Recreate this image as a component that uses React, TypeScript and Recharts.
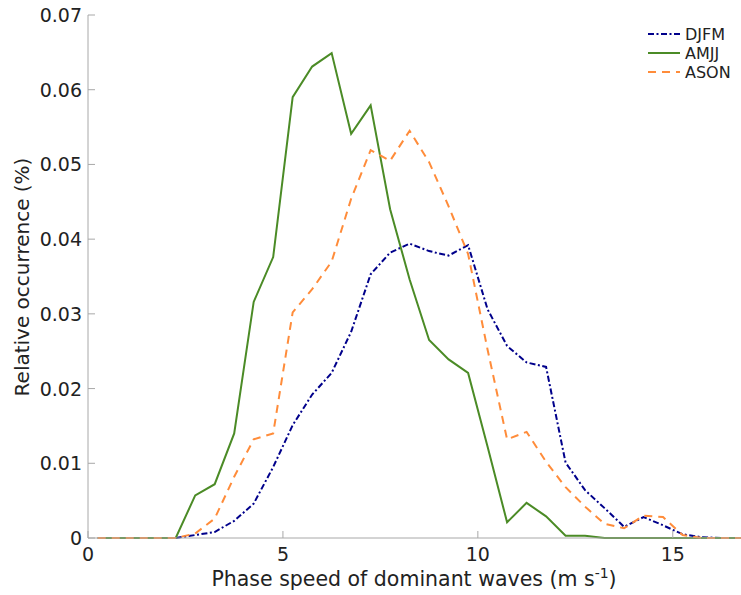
import React from "react";
import { LineChart, Line, XAxis, YAxis } from "recharts";

// phase speed bin centres (m s-1)
const phaseSpeed = [
  0.25, 0.75, 1.25, 1.75, 2.25, 2.75, 3.25, 3.75, 4.25, 4.75, 5.25, 5.75,
  6.25, 6.75, 7.25, 7.75, 8.25, 8.75, 9.25, 9.75, 10.25, 10.75, 11.25, 11.75,
  12.25, 12.75, 13.25, 13.75, 14.25, 14.75, 15.25, 15.75, 16.25, 16.75,
];

const djfm = [
  0, 0, 0, 0, 0, 0.0004, 0.0008, 0.0023, 0.0046, 0.0095, 0.0151, 0.0192,
  0.0221, 0.0276, 0.0353, 0.0382, 0.0394, 0.0384, 0.0378, 0.0392, 0.0306,
  0.0257, 0.0235, 0.0229, 0.0101, 0.0064, 0.004, 0.0015, 0.0028, 0.0017,
  0.0005, 0.0001, 0, 0,
];

const amjj = [
  0, 0, 0, 0, 0, 0.0057, 0.0072, 0.014, 0.0316, 0.0376, 0.059, 0.0631,
  0.0649, 0.0541, 0.0579, 0.044, 0.0346, 0.0265, 0.0239, 0.0221, 0.0122,
  0.0021, 0.0047, 0.0029, 0.0003, 0.0003, 0, 0, 0, 0, 0, 0, 0, 0,
];

const ason = [
  0, 0, 0, 0, 0, 0.0006, 0.0026, 0.0082, 0.0132, 0.014, 0.0302, 0.0333,
  0.037, 0.0454, 0.0519, 0.0505, 0.0545, 0.0503, 0.0444, 0.038, 0.0252,
  0.0132, 0.0142, 0.0102, 0.0068, 0.0042, 0.0019, 0.0013, 0.003, 0.0028,
  0.0004, 0, 0, 0,
];

const xTicks = [0, 5, 10, 15];
const yTicks = [0, 0.01, 0.02, 0.03, 0.04, 0.05, 0.06, 0.07];

const series = [
  { key: "DJFM", color: "#00008b", dash: "6 2.5 2 2.5" },
  { key: "AMJJ", color: "#4b8b26", dash: undefined },
  { key: "ASON", color: "#ff8c3a", dash: "8 6" },
];

const data = phaseSpeed.map((x, i) => ({
  x,
  DJFM: djfm[i],
  AMJJ: amjj[i],
  ASON: ason[i],
}));

const FONT = "'DejaVu Sans', sans-serif";
const TEXT = "#222";
const GRAY = "#a8a8a8";

const XTick = (props: any) => {
  const { x, y, payload } = props;
  return (
    <g>
      <line x1={x} x2={x} y1={y} y2={y - 7} stroke={GRAY} />
      <text x={x} y={y + 23} textAnchor="middle" fontSize={19} fill={TEXT} fontFamily={FONT}>
        {payload.value}
      </text>
    </g>
  );
};

const YTick = (props: any) => {
  const { x, y, payload } = props;
  const v = payload.value;
  return (
    <g>
      <line x1={x} x2={x + 7} y1={y} y2={y} stroke={GRAY} />
      <text x={x - 6} y={y + 7} textAnchor="end" fontSize={19} fill={TEXT} fontFamily={FONT}>
        {v === 0 ? "0" : v.toFixed(2)}
      </text>
    </g>
  );
};

const Legend = () => (
  <g>
    {series.map((s, i) => (
      <g key={s.key}>
        <line
          x1={648}
          x2={680}
          y1={34 + i * 19}
          y2={34 + i * 19}
          stroke={s.color}
          strokeWidth={2}
          strokeDasharray={s.dash}
        />
        <text x={685} y={34 + i * 19 + 6} fontSize={16} fill={TEXT} fontFamily={FONT}>
          {s.key}
        </text>
      </g>
    ))}
  </g>
);

export default function App() {
  return (
    <div style={{ position: "absolute", left: 0, top: 0, background: "#fff" }}>
      <LineChart
        width={741}
        height={595}
        data={data}
        margin={{ top: 15, right: 0, bottom: 0, left: 0 }}
      >
        <XAxis
          dataKey="x"
          type="number"
          domain={[0, 16.75]}
          ticks={xTicks}
          tick={<XTick />}
          tickLine={false}
          tickSize={0}
          tickMargin={0}
          height={57}
          stroke={GRAY}
          allowDataOverflow
          label={{
            position: "insideBottom",
            content: () => (
              <text x={414} y={586} textAnchor="middle" fontSize={20.5} fill={TEXT} fontFamily={FONT}>
                Phase speed of dominant waves (m s
                <tspan dy={-8} fontSize={14}>-1</tspan>
                <tspan dy={8}>)</tspan>
              </text>
            ),
          }}
        />
        <YAxis
          type="number"
          domain={[0, 0.07]}
          ticks={yTicks}
          tick={<YTick />}
          tickLine={false}
          tickSize={0}
          tickMargin={0}
          width={88}
          stroke={GRAY}
          label={{
            position: "insideLeft",
            content: () => (
              <text
                x={22}
                y={277}
                transform="rotate(-90 22 277)"
                textAnchor="middle"
                dominantBaseline="central"
                fontSize={20}
                fill={TEXT}
                fontFamily={FONT}
              >
                Relative occurrence (%)
              </text>
            ),
          }}
        />
        {series.map((s) => (
          <Line
            key={s.key}
            type="linear"
            dataKey={s.key}
            stroke={s.color}
            strokeWidth={2}
            strokeDasharray={s.dash}
            dot={false}
            activeDot={false}
            isAnimationActive={false}
          />
        ))}
        <Legend />
      </LineChart>
    </div>
  );
}
